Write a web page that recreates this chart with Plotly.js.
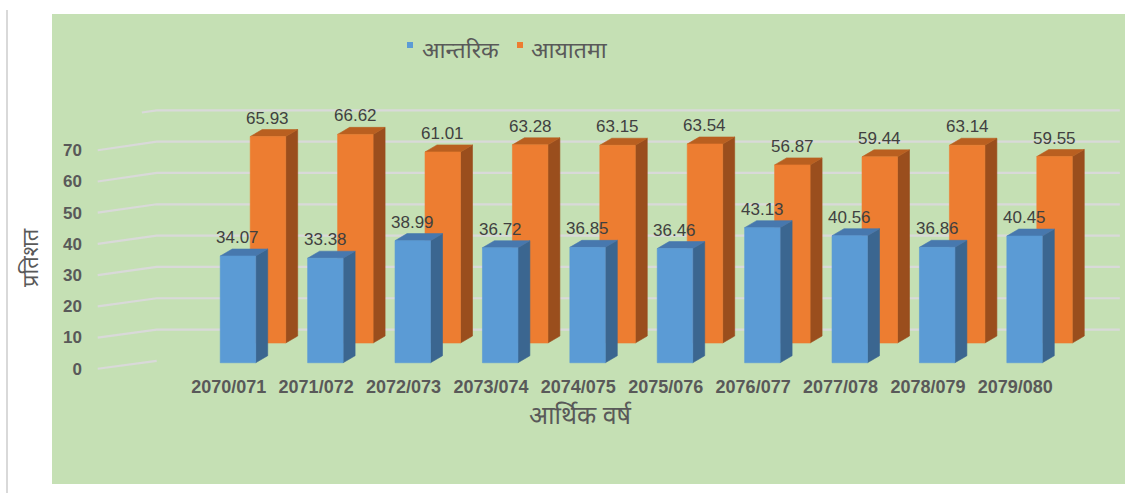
<!DOCTYPE html>
<html>
<head>
<meta charset="utf-8">
<script src="https://cdn.plot.ly/plotly-3.0.1.min.js"></script>
<style>html,body{margin:0;padding:0;background:#fff;}#chart{width:1125px;height:493px;}</style>
</head>
<body>
<div id="chart"></div>
<script>
// ---- data ----
const categories = ['2070/071','2071/072','2072/073','2073/074','2074/075','2075/076','2076/077','2077/078','2078/079','2079/080'];
const domestic = [34.07,33.38,38.99,36.72,36.85,36.46,43.13,40.56,36.86,40.45];
const imported = [65.93,66.62,61.01,63.28,63.15,63.54,56.87,59.44,63.14,59.55];
const seriesNames = ['आन्तरिक','आयातमा'];
const yTicks = [0,10,20,30,40,50,60,70];
const gridValues = [0,10,20,30,40,50,60,70,80];
const xTitle = 'आर्थिक वर्ष';
const yTitle = 'प्रतिशत';

// ---- styling / geometry (pseudo-3D) ----
const DEV = '"Noto Sans Devanagari","Noto Sans","Liberation Sans",sans-serif';
const HW = 0.203;      // half bar width (category units)
const DX = 0.137;      // depth offset x
const DY = 2.24;       // depth offset y (value units)
const BACK_SHIFT_X = 0.343; // second series sits behind and to the right
const BACK_BASE = 6.3;      // second series floor raised by perspective
const W = 1125, H = 493, ML = 52, MT = 14, MB = 9;
const PW = W - ML, PH = H - MT - MB;
const px2x = p => (p - ML) / PW;
const py2y = p => (H - MB - p) / PH;

function faces(centers, values, base){
  const f = {x:[],y:[]}, s = {x:[],y:[]}, t = {x:[],y:[]};
  centers.forEach((c,i)=>{
    const v = base + values[i];
    f.x.push(c-HW,c+HW,c+HW,c-HW,c-HW,null); f.y.push(base,base,v,v,base,null);
    s.x.push(c+HW,c+HW+DX,c+HW+DX,c+HW,c+HW,null); s.y.push(base,base+DY,v+DY,v,base,null);
    t.x.push(c-HW,c-HW+DX,c+HW+DX,c+HW,c-HW,null); t.y.push(v,v+DY,v+DY,v,v,null);
  });
  return {f,s,t};
}
function poly(p,color,name){
  return {type:'scatter',mode:'lines',name:name||'',x:p.x,y:p.y,fill:'toself',fillcolor:color,
    line:{color:color,width:0.6},hoverinfo:'skip',showlegend:false};
}

const idx = categories.map((_,i)=>i);
const blueC = idx;
const orangeC = idx.map(i=>i+BACK_SHIFT_X);
const B = faces(blueC, domestic, 0);
const O = faces(orangeC, imported, BACK_BASE);

// gridlines: diagonal (side wall) + horizontal (back wall)
const front = v => -1.92 + 0.9966*v;
const back = v => 0.6 + v;
const gx = {x:[],y:[]};
gridValues.forEach(v=>{
  const xs = v===80 ? -1.10 : -1.605;
  const t = (xs + 1.605)/(1.605-0.930);
  gx.x.push(xs, -0.930); gx.y.push(front(v) + (back(v)-front(v))*t, back(v));
  if (v>0){ gx.x.push(10.09); gx.y.push(back(v)); }
  gx.x.push(null); gx.y.push(null);
});

const traces = [
  {type:'scatter',mode:'lines',x:gx.x,y:gx.y,line:{color:'#D9D9D9',width:2.2},hoverinfo:'skip',showlegend:false},
  poly(O.s,'#9A4E1D'), poly(O.t,'#B95F20'), poly(O.f,'#ED7D31',seriesNames[1]),
  poly(B.s,'#3B6690'), poly(B.t,'#4778AE'), poly(B.f,'#5B9BD5',seriesNames[0])
];

const annotations = [];
const labFont = {family:'"Liberation Sans",Arial,sans-serif',size:17,color:'#404040'};
blueC.forEach((c,i)=>annotations.push({x:c,y:domestic[i]+DY,text:domestic[i].toFixed(2),showarrow:false,
  yanchor:'bottom',xanchor:'center',font:labFont,yshift:0}));
orangeC.forEach((c,i)=>annotations.push({x:c,y:BACK_BASE+imported[i]+DY,text:imported[i].toFixed(2),showarrow:false,
  yanchor:'bottom',xanchor:'center',font:labFont,yshift:0}));

// legend (custom, matches Excel look)
const legFont = {family:DEV,size:23,color:'#595959'};
annotations.push({xref:'paper',yref:'paper',x:px2x(420),y:py2y(52),text:seriesNames[0],showarrow:false,xanchor:'left',yanchor:'middle',font:legFont});
annotations.push({xref:'paper',yref:'paper',x:px2x(529),y:py2y(52),text:seriesNames[1],showarrow:false,xanchor:'left',yanchor:'middle',font:legFont});
// axis titles
annotations.push({xref:'paper',yref:'paper',x:px2x(580),y:py2y(417),text:xTitle,showarrow:false,xanchor:'center',yanchor:'middle',
  font:{family:DEV,size:25,color:'#595959'}});
annotations.push({xref:'paper',yref:'paper',x:px2x(32),y:py2y(258),text:yTitle,showarrow:false,xanchor:'center',yanchor:'middle',textangle:-90,
  font:{family:DEV,size:22,color:'#595959'}});

const shapes = [
  {type:'line',xref:'paper',yref:'paper',x0:px2x(7),x1:px2x(7),y0:py2y(10),y1:py2y(493),line:{color:'#D9D9D9',width:2}},
  {type:'rect',xref:'paper',yref:'paper',x0:px2x(407),x1:px2x(413),y0:py2y(48),y1:py2y(42),fillcolor:'#5B9BD5',line:{width:0}},
  {type:'rect',xref:'paper',yref:'paper',x0:px2x(517),x1:px2x(523),y0:py2y(48),y1:py2y(42),fillcolor:'#ED7D31',line:{width:0}}
];

const layout = {
  width:W,height:H,margin:{l:ML,r:0,t:MT,b:MB,pad:0},
  paper_bgcolor:'#FFFFFF',plot_bgcolor:'#C5E0B4',
  showlegend:false,
  xaxis:{range:[-2.128,10.149],anchor:'free',position:py2y(374),showgrid:false,zeroline:false,showline:false,
    tickmode:'array',tickvals:idx.map(i=>i-0.106),ticktext:categories,ticks:'',
    tickfont:{family:'"Liberation Sans",Arial,sans-serif',size:18,color:'#595959',weight:'bold'},fixedrange:true},
  yaxis:{range:[-38.72,111.36],anchor:'free',position:px2x(82),showgrid:false,zeroline:false,showline:false,
    tickmode:'array',tickvals:yTicks.map(front),ticktext:yTicks.map(String),ticks:'',
    tickfont:{family:'"Liberation Sans",Arial,sans-serif',size:17,color:'#595959',weight:'bold'},fixedrange:true},
  annotations:annotations,shapes:shapes
};
Plotly.newPlot('chart',traces,layout,{staticPlot:true,displayModeBar:false});
</script>
</body>
</html>
